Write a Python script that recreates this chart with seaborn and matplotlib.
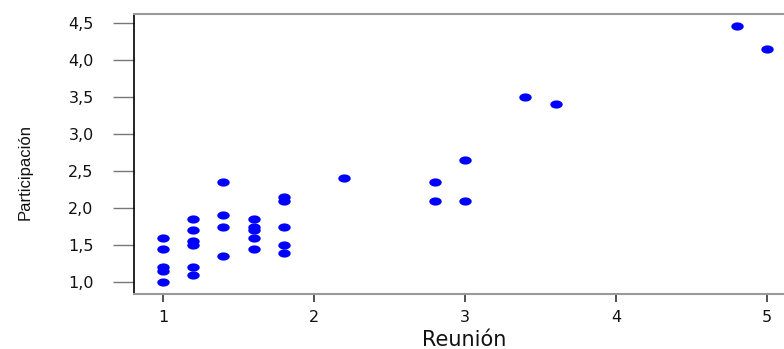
import numpy as np
import pandas as pd
import matplotlib
matplotlib.use("Agg")
import matplotlib.pyplot as plt
import seaborn as sns
from matplotlib.path import Path
from matplotlib.ticker import FixedLocator, FixedFormatter

# Meeting score (x) versus participation score (y)
reunion = [1.0, 1.0, 1.0, 1.0, 1.0,
           1.2, 1.2, 1.2, 1.2, 1.2, 1.2,
           1.4, 1.4, 1.4, 1.4,
           1.6, 1.6, 1.6, 1.6, 1.6,
           1.8, 1.8, 1.8, 1.8, 1.8,
           2.2, 2.8, 2.8, 3.0, 3.0, 3.4, 3.6, 4.8, 5.0]
participacion = [1.6, 1.45, 1.2, 1.15, 1.0,
                 1.85, 1.7, 1.55, 1.5, 1.2, 1.1,
                 2.35, 1.9, 1.75, 1.35,
                 1.85, 1.75, 1.7, 1.6, 1.45,
                 2.15, 2.1, 1.75, 1.5, 1.4,
                 2.4, 2.35, 2.1, 2.65, 2.1, 3.5, 3.4, 4.45, 4.15]

x_ticks = [1, 2, 3, 4, 5]
x_tick_labels = ["1", "2", "3", "4", "5"]
y_ticks = [1.0, 1.5, 2.0, 2.5, 3.0, 3.5, 4.0, 4.5]
y_tick_labels = ["1,0", "1,5", "2,0", "2,5", "3,0", "3,5", "4,0", "4,5"]

df = pd.DataFrame({"Reunión": reunion, "Participación": participacion})

sns.set_style("white")
plt.rcParams["font.family"] = ["DejaVu Sans"]

fig = plt.figure(figsize=(7.84, 3.49), dpi=100)
ax = fig.add_axes([134 / 784, 1 - 293.5 / 349, 1 - 134 / 784 + 0.02, (293.5 - 14) / 349])

# flattened ellipse marker
theta = np.linspace(0, 2 * np.pi, 40)
ellipse = Path(np.column_stack([np.cos(theta), 0.66 * np.sin(theta)]), closed=True)

sns.scatterplot(data=df, x="Reunión", y="Participación", ax=ax,
                marker=ellipse, s=80, color="#0000FF", linewidth=0,
                legend=False)

ax.set_xlim(0.808, 5.216)
ax.set_ylim(0.847, 4.617)

ax.xaxis.set_major_locator(FixedLocator(x_ticks))
ax.xaxis.set_major_formatter(FixedFormatter(x_tick_labels))
ax.yaxis.set_major_locator(FixedLocator(y_ticks))
ax.yaxis.set_major_formatter(FixedFormatter(y_tick_labels))

ax.tick_params(axis="x", direction="out", length=5.8, width=1.1, color="#222222",
               labelsize=11.5, pad=6, labelcolor="#111111", bottom=True)
ax.tick_params(axis="y", direction="out", length=15, width=1, color="#777777",
               labelsize=11.5, pad=14, labelcolor="#111111", left=True)

for side in ["top", "bottom"]:
    ax.spines[side].set_color("#999999")
    ax.spines[side].set_linewidth(1.5)
ax.spines["left"].set_color("#000000")
ax.spines["left"].set_linewidth(1.2)
ax.spines["right"].set_visible(False)

ax.set_xlabel("Reunión", fontsize=15, color="#111111")
ax.xaxis.set_label_coords(0.4966, -0.130)
ax.set_ylabel("Participación", fontsize=12, color="#111111",
              family=["Liberation Sans", "DejaVu Sans"])
ax.yaxis.set_label_coords(-0.152, 0.435)

fig.savefig("out.png", dpi=100)
